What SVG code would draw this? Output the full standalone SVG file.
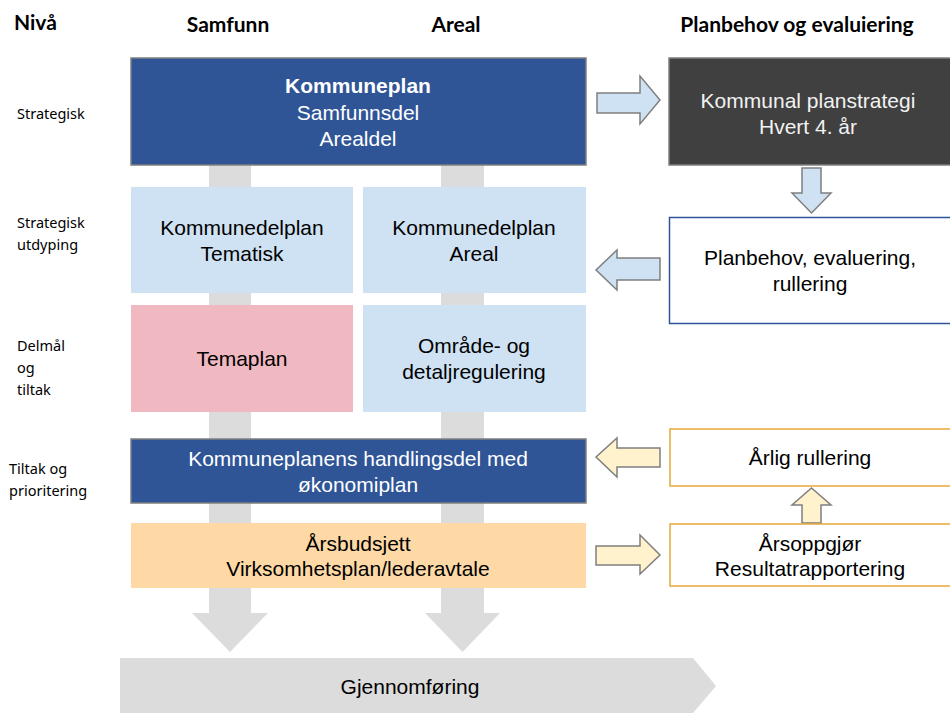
<svg xmlns="http://www.w3.org/2000/svg" width="950" height="713" viewBox="0 0 950 713">
<style>
.hd{font-family:Lato,"Liberation Sans",sans-serif;font-weight:bold;font-size:21px;fill:#000}
.lv{font-family:"Noto Sans","Liberation Sans",sans-serif;font-size:14.5px;fill:#000}
.t{font-family:"Liberation Sans",Arial,sans-serif;font-size:21px;fill:#000;text-anchor:middle}
.w{fill:#fff}
.lw{fill:#f2f2f2}
.band{fill:#dcdcdc}
.ab{fill:#cfe2f3;stroke:#7f7f7f;stroke-width:1.5}
.ay{fill:#fff2cc;stroke:#7f7f7f;stroke-width:1.5}
</style>
<rect width="950" height="713" fill="#fff"/>
<g id="headers">
<text class="hd" x="14" y="30">Nivå</text>
<text class="hd" x="228" y="32" text-anchor="middle">Samfunn</text>
<text class="hd" x="456" y="32" text-anchor="middle">Areal</text>
<text class="hd" x="797" y="32" text-anchor="middle">Planbehov og evaluiering</text>
</g>
<g id="levels">
<text class="lv" x="17" y="119">Strategisk</text>
<text class="lv" x="17" y="228">Strategisk</text>
<text class="lv" x="17" y="250">utdyping</text>
<text class="lv" x="17" y="351">Delmål</text>
<text class="lv" x="17" y="373">og</text>
<text class="lv" x="17" y="395">tiltak</text>
<text class="lv" x="9" y="474">Tiltak og</text>
<text class="lv" x="9" y="496">prioritering</text>
</g>
<g id="connectors">
<rect class="band" x="209" y="100" width="42" height="514"/>
<polygon class="band" points="192,613 268,613 230,652"/>
<rect class="band" x="441" y="100" width="43" height="514"/>
<polygon class="band" points="425,613 500,613 462.5,652"/>
<polygon class="ab" points="597,93 640,93 640,76 660,100 640,124 640,113 597,113"/>
<polygon class="ab" points="802,168 821,168 821,193 831,193 811.5,213 792,193 802,193"/>
<polygon class="ab" points="660,258 617,258 617,250 596,270 617,290 617,280 660,280"/>
<polygon class="ay" points="660,448 617,448 617,438 596,457 617,477 617,467 660,467"/>
<polygon class="ay" points="802,523 802,505 792,505 811.5,488 831,505 821,505 821,523"/>
<polygon class="ay" points="596,546 640,546 640,535 660,555 640,574 640,565 596,565"/>
</g>
<g id="kommuneplan">
<rect x="131" y="58" width="455" height="107" fill="#2f5597" stroke="#7f7f7f" stroke-width="1.5"/>
<text class="t w" x="358" y="93" font-weight="bold">Kommuneplan</text>
<text class="t w" x="358" y="120">Samfunnsdel</text>
<text class="t w" x="358" y="146">Arealdel</text>
</g>
<g id="kdp-tematisk">
<rect x="131" y="187" width="222" height="106" fill="#cfe2f3"/>
<text class="t" x="242" y="235">Kommunedelplan</text>
<text class="t" x="242" y="261">Tematisk</text>
</g>
<g id="kdp-areal">
<rect x="363" y="187" width="223" height="106" fill="#cfe2f3"/>
<text class="t" x="474" y="235">Kommunedelplan</text>
<text class="t" x="474" y="261">Areal</text>
</g>
<g id="temaplan">
<rect x="131" y="305" width="222" height="107" fill="#f0b8c1"/>
<text class="t" x="242" y="366">Temaplan</text>
</g>
<g id="regulering">
<rect x="363" y="305" width="223" height="107" fill="#cfe2f3"/>
<text class="t" x="474" y="353">Område- og</text>
<text class="t" x="474" y="379">detaljregulering</text>
</g>
<g id="handlingsdel">
<rect x="131" y="439" width="455" height="64" fill="#2f5597" stroke="#7f7f7f" stroke-width="1.5"/>
<text class="t w" x="358" y="466" font-size="20">Kommuneplanens handlingsdel med</text>
<text class="t w" x="358" y="492" font-size="20">økonomiplan</text>
</g>
<g id="arsbudsjett">
<rect x="131" y="523" width="455" height="65" fill="#ffd9a5"/>
<text class="t" x="358" y="551">Årsbudsjett</text>
<text class="t" x="358" y="576">Virksomhetsplan/lederavtale</text>
</g>
<g id="planstrategi">
<rect x="669" y="58" width="290" height="107" fill="#404040" stroke="#7f7f7f" stroke-width="1.5"/>
<text class="t lw" x="808" y="108">Kommunal planstrategi</text>
<text class="t lw" x="808" y="134">Hvert 4. år</text>
</g>
<g id="planbehov">
<rect x="669.5" y="217.5" width="290" height="106" fill="#fff" stroke="#2f5597" stroke-width="1.5"/>
<text class="t" x="810" y="265">Planbehov, evaluering,</text>
<text class="t" x="810" y="291">rullering</text>
</g>
<g id="arlig">
<rect x="670" y="429" width="290" height="57" fill="#fff" stroke="#e6a93a" stroke-width="1.5"/>
<text class="t" x="810" y="465">Årlig rullering</text>
</g>
<g id="arsoppgjor">
<rect x="670" y="524" width="290" height="62" fill="#fff" stroke="#e6a93a" stroke-width="1.5"/>
<text class="t" x="810" y="551">Årsoppgjør</text>
<text class="t" x="810" y="576">Resultatrapportering</text>
</g>
<g id="gjennomforing">
<polygon points="120,658 693,658 716,686 693,713 120,713" fill="#dcdcdc"/>
<text class="t" x="410" y="694">Gjennomføring</text>
</g>
</svg>
